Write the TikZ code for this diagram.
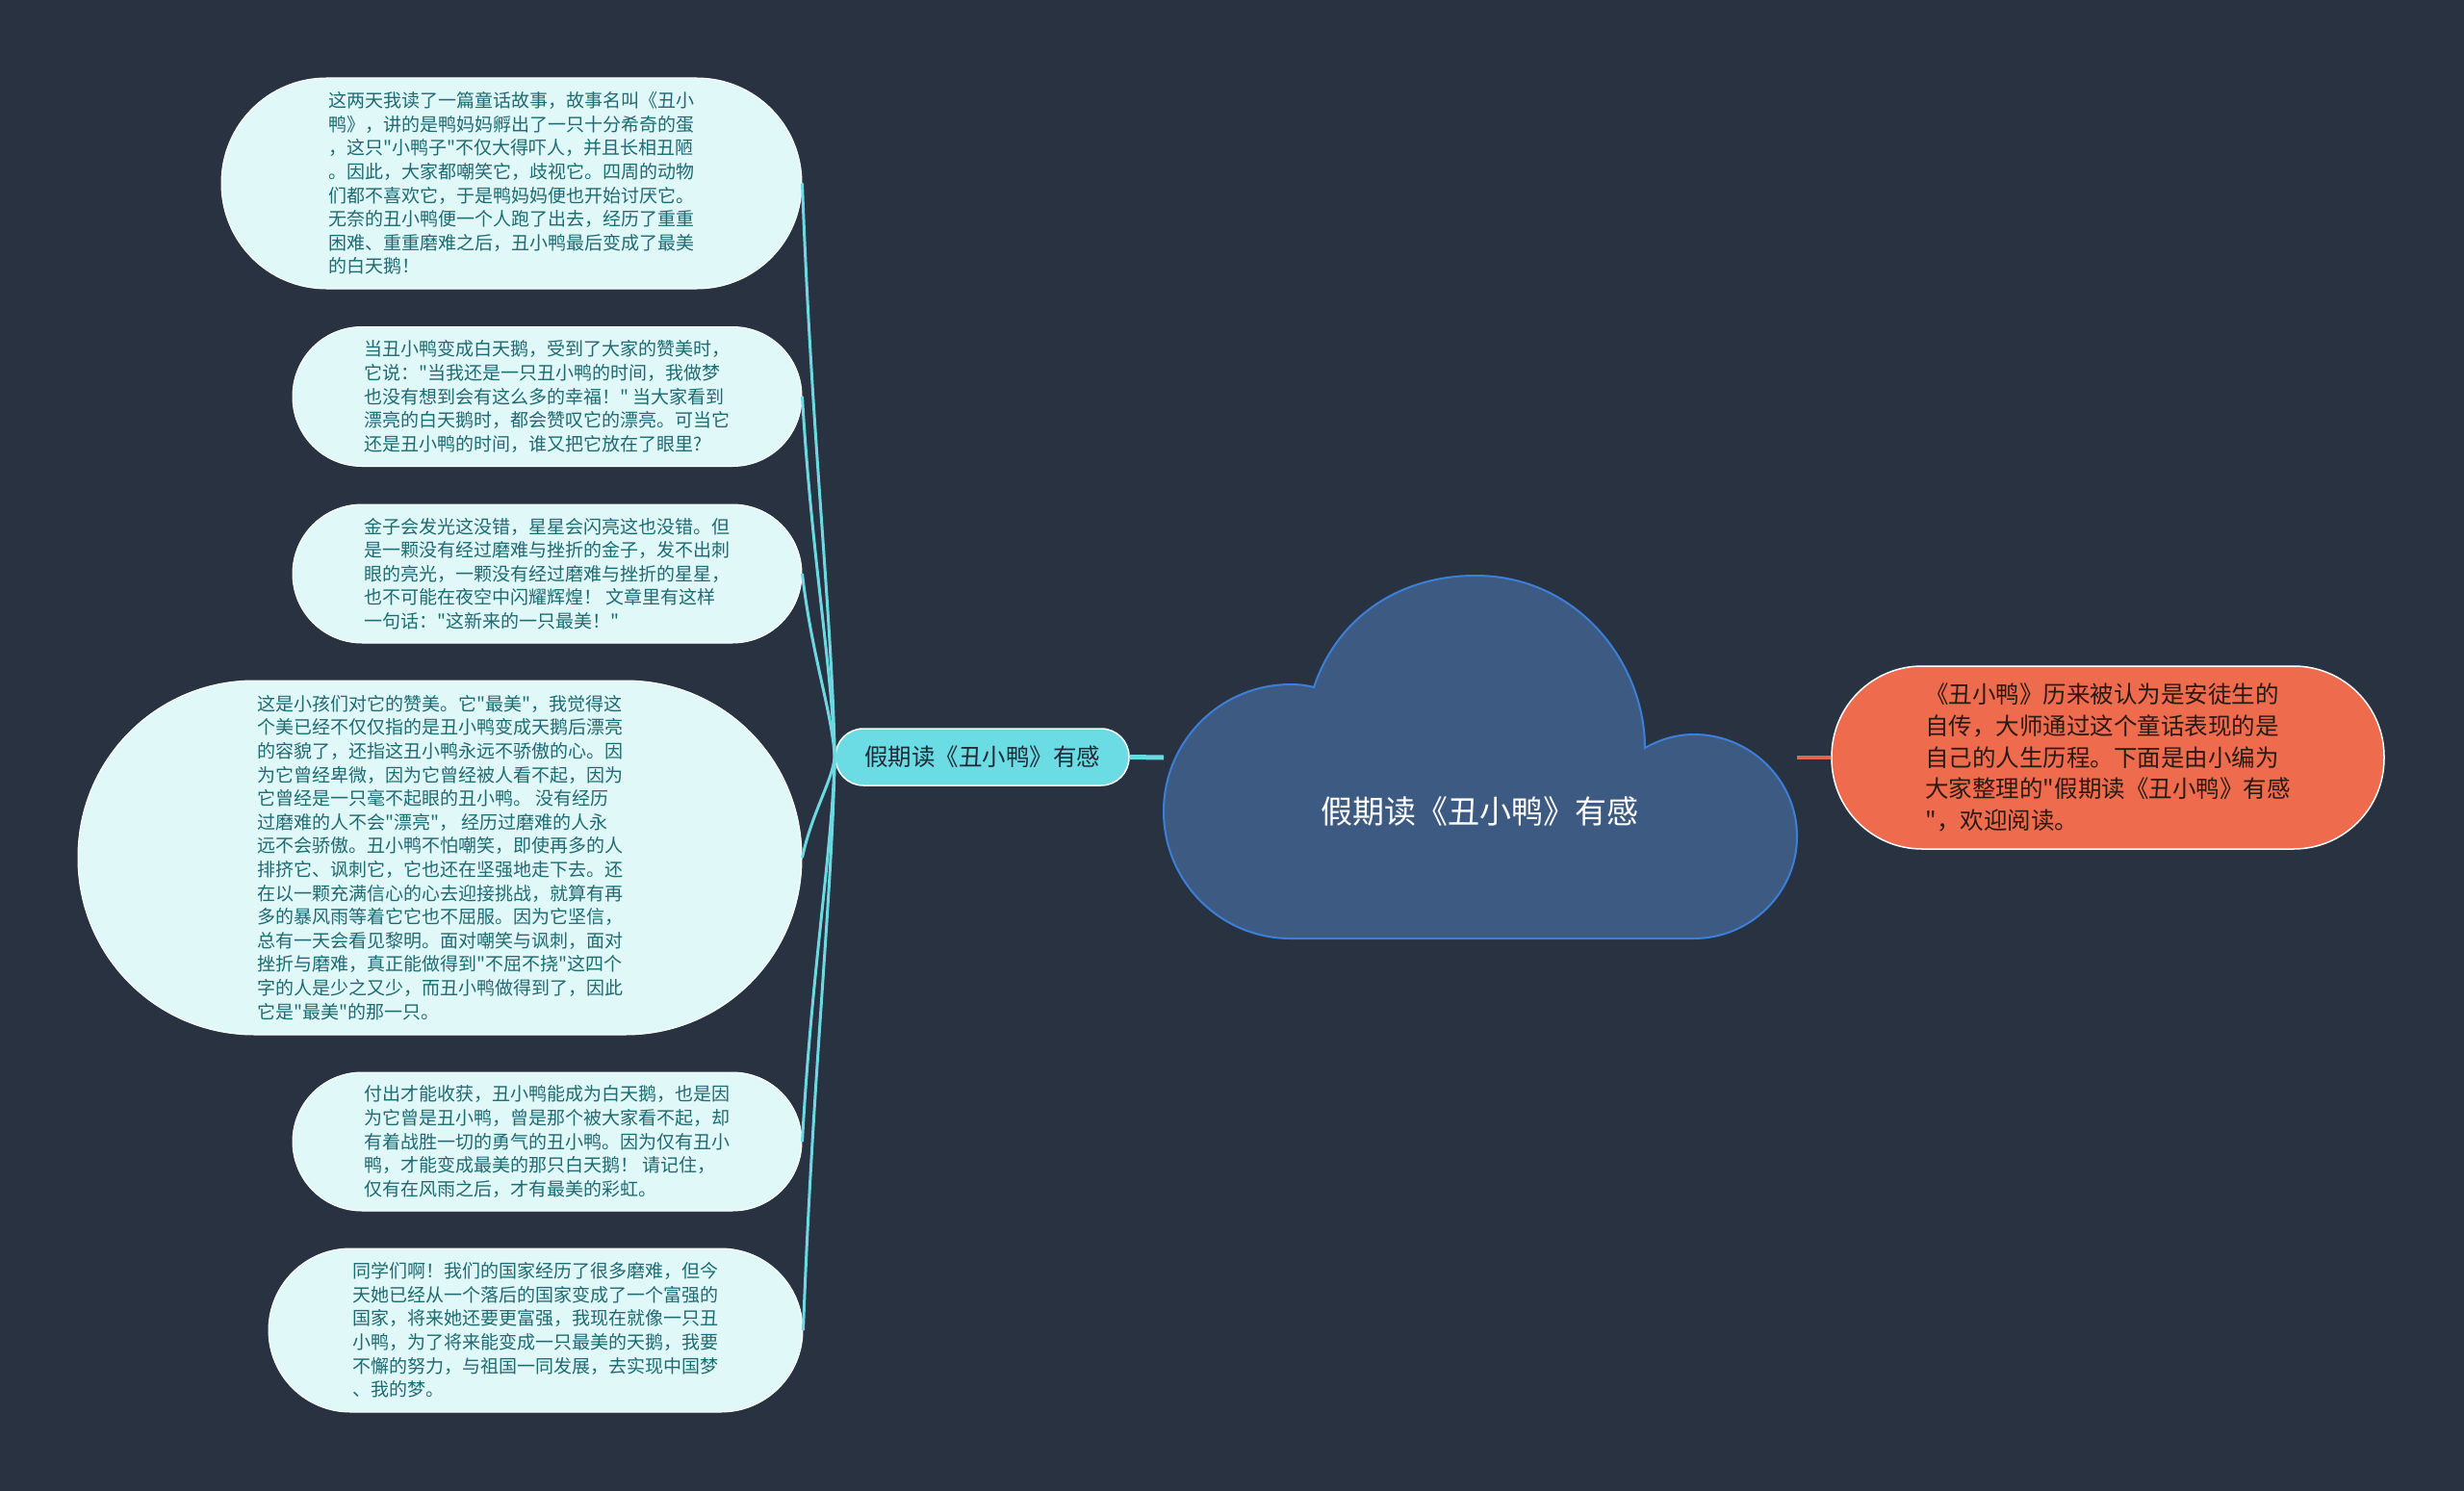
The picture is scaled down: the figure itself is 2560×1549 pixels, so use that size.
\documentclass[tikz,border=0pt]{standalone}
\usepackage{fontspec}
\setmainfont{Noto Sans CJK SC}[Ligatures=TeXOff]
\definecolor{BgDark}{HTML}{293241}
\definecolor{CloudFill}{HTML}{3D5B82}
\definecolor{CloudLine}{HTML}{3C7FD9}
\definecolor{LeafFill}{HTML}{E0F8F8}
\definecolor{LeafText}{HTML}{1E6B73}
\definecolor{BranchFill}{HTML}{6CDCE4}
\definecolor{BranchText}{HTML}{1E2A36}
\definecolor{LinkCyan}{HTML}{6CD8E2}
\definecolor{NoteFill}{HTML}{EE6B4D}
\definecolor{NoteText}{HTML}{2A1A14}
\definecolor{LinkRed}{HTML}{E0664C}

\begin{document}
\begin{tikzpicture}[
  x=1pt, y=-1pt,
  leaf/.style={
    rectangle, draw=white, line width=1pt,
    fill=LeafFill, text=LeafText,
    font=\fontsize{19}{24.6}\selectfont,
    align=left, inner sep=0pt,
  },
  branch/.style={
    rectangle, rounded corners=29pt,
    draw=white, line width=1.5pt,
    fill=BranchFill, text=BranchText,
    font=\fontsize{24.5}{30}\selectfont,
    minimum width=305pt, minimum height=59pt, inner sep=0pt,
  },
  note/.style={
    rectangle, rounded corners=94pt,
    draw=white, line width=1.5pt,
    fill=NoteFill, text=NoteText,
    font=\fontsize{24.5}{32.7}\selectfont,
    minimum width=574pt, minimum height=190pt,
    align=left, inner sep=0pt,
  },
  link/.style={line width=3pt, color=LinkCyan},
]
  \fill[BgDark] (0,0) rectangle (2560,1549);
  \useasboundingbox (0,0) rectangle (2560,1549);

  % central cloud
  \draw[fill=CloudFill, draw=CloudLine, line width=2pt]
    (1341,975) .. controls (1268,975) and (1209,916) .. (1209,843)
    .. controls (1209,770) and (1268,711) .. (1341,711)
    .. controls (1350,711) and (1358,712) .. (1365,714)
    .. controls (1390,640) and (1455,598) .. (1533,598)
    .. controls (1640,598) and (1709,690) .. (1709,777)
    .. controls (1725,768) and (1742,763) .. (1760,763)
    .. controls (1818,763) and (1867,810) .. (1867,869)
    .. controls (1867,928) and (1818,975) .. (1760,975)
    -- cycle;
  \node[font=\fontsize{33}{40}\selectfont, text=white] (topic) at (1537,843)
    {假期读《丑小鸭》有感};
  \coordinate (cloudW) at (1209,787);
  \coordinate (cloudE) at (1867,787);

  \node[branch] (mid) at (1020.5,786.5) {假期读《丑小鸭》有感};
  \node[note] (intro) at (2190,787) {《丑小鸭》历来被认为是安徒生的\\
自传，大师通过这个童话表现的是\\
自己的人生历程。下面是由小编为\\
大家整理的"假期读《丑小鸭》有感\\
"，欢迎阅读。};

  % leaves
  \node[leaf, minimum width=603pt, minimum height=219pt, rounded corners=109pt]
    (story) at (531.5,190.5) {这两天我读了一篇童话故事，故事名叫《丑小\\
鸭》，讲的是鸭妈妈孵出了一只十分希奇的蛋\\
，这只"小鸭子"不仅大得吓人，并且长相丑陋\\
。因此，大家都嘲笑它，歧视它。四周的动物\\
们都不喜欢它，于是鸭妈妈便也开始讨厌它。\\
无奈的丑小鸭便一个人跑了出去，经历了重重\\
困难、重重磨难之后，丑小鸭最后变成了最美\\
的白天鹅！};
  \node[leaf, minimum width=529pt, minimum height=145pt, rounded corners=72pt]
    (swan) at (568.5,412) {当丑小鸭变成白天鹅，受到了大家的赞美时，\\
它说："当我还是一只丑小鸭的时间，我做梦\\
也没有想到会有这么多的幸福！" 当大家看到\\
漂亮的白天鹅时，都会赞叹它的漂亮。可当它\\
还是丑小鸭的时间，谁又把它放在了眼里?};
  \node[leaf, minimum width=529pt, minimum height=144pt, rounded corners=72pt]
    (gold) at (568.5,596) {金子会发光这没错，星星会闪亮这也没错。但\\
是一颗没有经过磨难与挫折的金子，发不出刺\\
眼的亮光，一颗没有经过磨难与挫折的星星，\\
也不可能在夜空中闪耀辉煌！ 文章里有这样\\
一句话："这新来的一只最美！"};
  \node[leaf, minimum width=752pt, minimum height=368pt, rounded corners=183pt]
    (beauty) at (457,891) {这是小孩们对它的赞美。它"最美"，我觉得这\\
个美已经不仅仅指的是丑小鸭变成天鹅后漂亮\\
的容貌了，还指这丑小鸭永远不骄傲的心。因\\
为它曾经卑微，因为它曾经被人看不起，因为\\
它曾经是一只毫不起眼的丑小鸭。 没有经历\\
过磨难的人不会"漂亮"， 经历过磨难的人永\\
远不会骄傲。丑小鸭不怕嘲笑，即使再多的人\\
排挤它、讽刺它，它也还在坚强地走下去。还\\
在以一颗充满信心的心去迎接挑战，就算有再\\
多的暴风雨等着它它也不屈服。因为它坚信，\\
总有一天会看见黎明。面对嘲笑与讽刺，面对\\
挫折与磨难，真正能做得到"不屈不挠"这四个\\
字的人是少之又少，而丑小鸭做得到了，因此\\
它是"最美"的那一只。};
  \node[leaf, minimum width=529pt, minimum height=144pt, rounded corners=72pt]
    (effort) at (568.5,1186) {付出才能收获，丑小鸭能成为白天鹅，也是因\\
为它曾是丑小鸭，曾是那个被大家看不起，却\\
有着战胜一切的勇气的丑小鸭。因为仅有丑小\\
鸭，才能变成最美的那只白天鹅！ 请记住，\\
仅有在风雨之后，才有最美的彩虹。};
  \node[leaf, minimum width=555pt, minimum height=170pt, rounded corners=85pt]
    (dream) at (556.5,1382) {同学们啊！我们的国家经历了很多磨难，但今\\
天她已经从一个落后的国家变成了一个富强的\\
国家，将来她还要更富强，我现在就像一只丑\\
小鸭，为了将来能变成一只最美的天鹅，我要\\
不懈的努力，与祖国一同发展，去实现中国梦\\
、我的梦。};

  % connectors
  \draw[line width=5pt, LinkCyan] (mid.east) -- (cloudW);
  \draw[line width=4pt, LinkRed] (cloudE) -- (intro.west);
  \foreach \leaf/\dy in {story/596, swan/375, gold/191, beauty/-104, effort/-399, dream/-595}
    \draw[link] (\leaf.east) .. controls +(10,{0.45*(\dy)}) and +(-3,{-0.25*(\dy)}) .. (mid.west);
\end{tikzpicture}
\end{document}
